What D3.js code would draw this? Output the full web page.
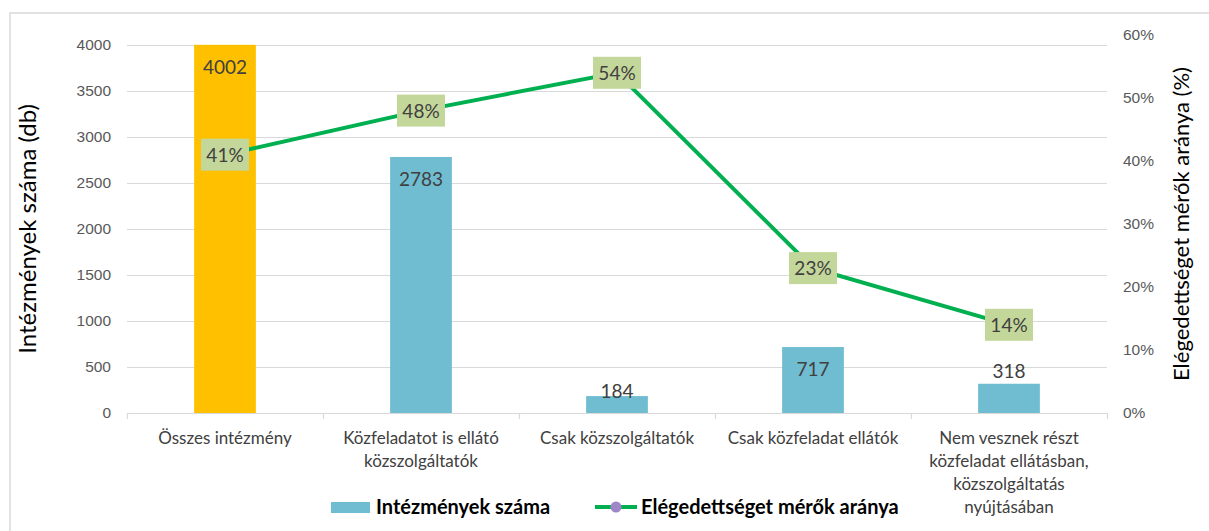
<!DOCTYPE html>
<html><head><meta charset="utf-8">
<script src="https://cdn.jsdelivr.net/npm/d3@7"></script>
<style>body{margin:0;background:#fff}svg{display:block;font-family:Lato,"Open Sans",sans-serif}</style>
</head><body><svg id="c" width="1209" height="531"></svg>
<script>
const categories = [["Összes intézmény"],["Közfeladatot is ellátó","közszolgáltatók"],["Csak közszolgáltatók"],["Csak közfeladat ellátók"],["Nem vesznek részt","közfeladat ellátásban,","közszolgáltatás","nyújtásában"]];
const counts = [4002, 2783, 184, 717, 318];
const shares = [0.41, 0.48, 0.54, 0.23, 0.14];
const barColors = ["#FFC000","#70BDD1","#70BDD1","#70BDD1","#70BDD1"];
const leftTicks = [0,500,1000,1500,2000,2500,3000,3500,4000];
const rightTicks = [0,0.1,0.2,0.3,0.4,0.5,0.6];
const seriesNames = ["Intézmények száma","Elégedettséget mérők aránya"];

const svg = d3.select("#c");
const x0 = 127, x1 = 1107, yTop = 35, yBot = 413;
const x = d3.scaleBand().domain(d3.range(categories.length)).range([x0,x1]).paddingInner(0.685).paddingOuter(0.3425);
const xb = d3.scaleBand().domain(d3.range(categories.length)).range([x0,x1]);
const yL = d3.scaleLinear().domain([0, 4000*(yBot-yTop)/(yBot-45)]).range([yBot,yTop]);
const yR = d3.scaleLinear().domain([0,0.6]).range([yBot,yTop]);

// frame
svg.append("path").attr("d","M10,531 V13 H1209").attr("fill","none").attr("stroke","#d9d9d9").attr("stroke-width",1.5);

// gridlines
svg.append("g").selectAll("line").data(leftTicks.filter(d=>d>0)).join("line")
  .attr("x1",x0).attr("x2",x1).attr("y1",d=>Math.round(yL(d))+0.5).attr("y2",d=>Math.round(yL(d))+0.5)
  .attr("stroke","#d9d9d9").attr("stroke-width",1);

// left axis
const gL = svg.append("g").attr("transform",`translate(${x0},0)`)
  .call(d3.axisLeft(yL).tickValues(leftTicks).tickSize(0).tickPadding(16).tickFormat(d3.format("d")));
gL.select(".domain").remove();
gL.selectAll("text").attr("fill","#595959").style("font-size","15.5px");

// right axis
const gR = svg.append("g").attr("transform",`translate(${x1},0)`)
  .call(d3.axisRight(yR).tickValues(rightTicks).tickSize(0).tickPadding(16).tickFormat(d3.format(".0%")));
gR.select(".domain").remove();
gR.selectAll("text").attr("fill","#595959").style("font-size","15.5px");

// bottom axis line + ticks
svg.append("line").attr("x1",x0).attr("x2",x1).attr("y1",yBot+0.5).attr("y2",yBot+0.5).attr("stroke","#d9d9d9").attr("stroke-width",1.2);
svg.append("g").selectAll("line").data(d3.range(categories.length+1)).join("line")
  .attr("x1",i=>Math.round(x0+i*xb.bandwidth())+0.5).attr("x2",i=>Math.round(x0+i*xb.bandwidth())+0.5)
  .attr("y1",yBot).attr("y2",yBot+6).attr("stroke","#d9d9d9").attr("stroke-width",1.2);

// category labels
svg.append("g").selectAll("text").data(categories).join("text")
  .attr("x",(d,i)=>xb(i)+xb.bandwidth()/2).attr("y",444).attr("text-anchor","middle")
  .attr("fill","#404040").style("font-size","17px")
  .each(function(lines){ d3.select(this).selectAll("tspan").data(lines).join("tspan")
     .attr("x",d3.select(this).attr("x")).attr("dy",(l,k)=>k?23:0).text(l=>l); });

// bars
svg.append("g").selectAll("rect").data(counts).join("rect")
  .attr("x",(d,i)=>x(i)).attr("width",x.bandwidth()).attr("y",d=>yL(d)).attr("height",d=>yBot-yL(d))
  .attr("fill",(d,i)=>barColors[i]);

// bar labels
svg.append("g").selectAll("text").data(counts).join("text")
  .attr("x",(d,i)=>x(i)+x.bandwidth()/2)
  .attr("y",d=>{const h=yBot-yL(d); return h>50 ? yL(d)+29 : (h>20 ? yL(d)-6 : yL(d)+2);})
  .attr("text-anchor","middle").attr("fill","#404040").style("font-size","19px").text(d=>d);

// line
svg.append("path").datum(shares)
  .attr("d",d3.line().x((d,i)=>xb(i)+xb.bandwidth()/2).y(d=>yR(d)))
  .attr("fill","none").attr("stroke","#00B050").attr("stroke-width",4);

// line labels
const ll = svg.append("g").selectAll("g").data(shares).join("g")
  .attr("transform",(d,i)=>`translate(${xb(i)+xb.bandwidth()/2},${yR(d)})`);
ll.append("rect").attr("x",-24).attr("y",-16).attr("width",48).attr("height",32).attr("fill","#C4D79B");
ll.append("text").attr("y",7).attr("text-anchor","middle").attr("fill","#404040").style("font-size","19px").text(d3.format(".0%"));

// axis titles
svg.append("text").attr("transform","translate(36,229) rotate(-90)").attr("text-anchor","middle")
  .style("font-size","24px").attr("fill","#000").text("Intézmények száma (db)");
svg.append("text").attr("transform","translate(1189,224) rotate(-90)").attr("text-anchor","middle")
  .style("font-size","22px").attr("fill","#000").text("Elégedettséget mérők aránya (%)");

// legend
const lg = svg.append("g");
lg.append("rect").attr("x",331).attr("y",502).attr("width",39).attr("height",11).attr("fill","#70BDD1");
lg.append("text").attr("x",376).attr("y",514).style("font-size","20px").style("font-weight","bold").attr("fill","#000").text(seriesNames[0]);
lg.append("line").attr("x1",595).attr("x2",637).attr("y1",507).attr("y2",507).attr("stroke","#00B050").attr("stroke-width",4);
lg.append("circle").attr("cx",616).attr("cy",507).attr("r",5.5).attr("fill","#9E86C9");
lg.append("text").attr("x",641).attr("y",514).style("font-size","20px").style("font-weight","bold").attr("fill","#000").text(seriesNames[1]);
</script></body></html>
